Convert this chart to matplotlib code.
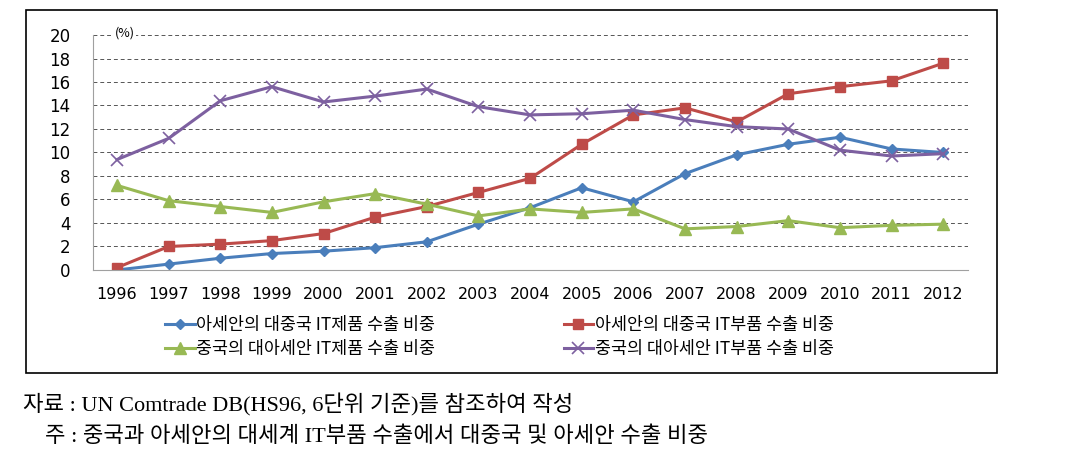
import matplotlib.pyplot as plt
from matplotlib.patches import Rectangle

plt.rcParams['font.family'] = ['Noto Sans CJK KR', 'DejaVu Sans']

years = list(range(1996, 2013))
year_labels = [str(y) for y in years]

# 아세안의 대중국 IT제품 수출 비중
asean_prod = [0.0, 0.5, 1.0, 1.4, 1.6, 1.9, 2.4, 3.9, 5.3, 7.0, 5.8, 8.2, 9.8, 10.7, 11.3, 10.3, 10.0]
# 아세안의 대중국 IT부품 수출 비중
asean_part = [0.2, 2.0, 2.2, 2.5, 3.1, 4.5, 5.4, 6.6, 7.8, 10.7, 13.2, 13.8, 12.6, 15.0, 15.6, 16.1, 17.6]
# 중국의 대아세안 IT제품 수출 비중
china_prod = [7.2, 5.9, 5.4, 4.9, 5.8, 6.5, 5.6, 4.6, 5.2, 4.9, 5.2, 3.5, 3.7, 4.2, 3.6, 3.8, 3.9]
# 중국의 대아세안 IT부품 수출 비중
china_part = [9.4, 11.2, 14.4, 15.6, 14.3, 14.8, 15.4, 13.9, 13.2, 13.3, 13.6, 12.8, 12.2, 12.0, 10.2, 9.7, 9.9]

labels = ['아세안의 대중국 IT제품 수출 비중', '아세안의 대중국 IT부품 수출 비중',
          '중국의 대아세안 IT제품 수출 비중', '중국의 대아세안 IT부품 수출 비중']

fig = plt.figure(figsize=(10.77, 4.73), dpi=100)
ax = fig.add_axes([0.0861, 0.4292, 0.8127, 0.4968])

l1, = ax.plot(years, asean_prod, color='#4A7EBB', lw=2.2, marker='D', ms=5, label=labels[0])
l2, = ax.plot(years, asean_part, color='#BE4B48', lw=2.2, marker='s', ms=7, label=labels[1])
l3, = ax.plot(years, china_prod, color='#98B954', lw=2.2, marker='^', ms=8, label=labels[2])
l4, = ax.plot(years, china_part, color='#7D60A0', lw=2.2, marker='x', ms=8, mew=1.2, label=labels[3])

ax.set_xlim(1995.53, 2012.48)
ax.set_ylim(0, 20)
ax.set_yticks(range(0, 21, 2))
ax.set_xticks(years)
ax.set_xticklabels(year_labels)
ax.tick_params(length=0)
ax.tick_params(axis='y', labelsize=12, pad=16)
ax.tick_params(axis='x', labelsize=11.5, pad=12)
for t in ax.get_xticklabels() + ax.get_yticklabels():
    t.set_family('DejaVu Sans')
ax.grid(axis='y', ls=(0, (4, 3)), color='#555555', lw=0.7)
ax.set_axisbelow(True)
for s in ['top', 'right']:
    ax.spines[s].set_visible(False)
for s in ['left', 'bottom']:
    ax.spines[s].set_color('#A0A0A0')

ax.text(1995.95, 20.2, '(%)', fontsize=9, ha='left', va='center',
        bbox=dict(fc='white', ec='none', pad=1))

fig.legend([l1, l3, l2, l4], [labels[0], labels[2], labels[1], labels[3]],
           ncol=2, loc='center left', bbox_to_anchor=(165 / 1077, 1 - 337 / 473),
           frameon=False, borderpad=0, borderaxespad=0,
           fontsize=12.5, handlelength=1.7, handletextpad=0.1, columnspacing=7.4,
           labelspacing=0.3)

fig.patches.append(Rectangle((0.0241, 0.2114), 0.9016, 0.7675, transform=fig.transFigure,
                             fill=False, ec='black', lw=1.2))

cap_font = ['Liberation Serif', 'Noto Sans CJK KR']
fig.text(23 / 1077, 1 - 405 / 473, '자료 : UN Comtrade DB(HS96, 6단위 기준)를 참조하여 작성',
         fontsize=16, ha='left', va='center', family=cap_font)
fig.text(45 / 1077, 1 - 437 / 473, '주 : 중국과 아세안의 대세계 IT부품 수출에서 대중국 및 아세안 수출 비중',
         fontsize=16, ha='left', va='center', family=cap_font)

fig.savefig('out.png', dpi=100)
